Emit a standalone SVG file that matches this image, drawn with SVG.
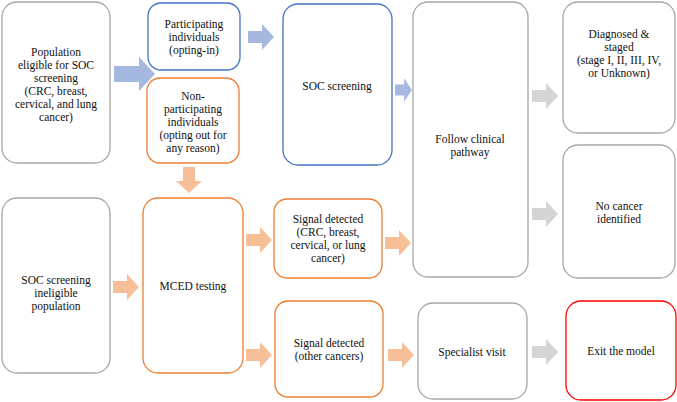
<svg xmlns="http://www.w3.org/2000/svg" width="677" height="402" viewBox="0 0 677 402">
<style>
.n{fill:#fff;stroke-width:1.3}
.g{stroke:#a6a6a6}.b{stroke:#4472c4}.o{stroke:#ed7d31}.r{stroke:#ff0000}
text{font-family:'Liberation Serif','Times New Roman','DejaVu Serif',serif;font-size:11.5px;fill:#111;text-anchor:middle}
.ab{fill:#a5b8e0}.ao{fill:#f7bf98}.ag{fill:#d4d4d4}
</style>
<defs>
<path id="a" d="M0,-6 H14 V-13 L26,0 L14,13 V6 H0 Z"/>
<path id="big" d="M0,-8 H25 V-17 L41,0 L25,17 V8 H0 Z"/>
</defs>
<g id="connectors">
<use href="#big" class="ab" x="114" y="74"/>
<use href="#a" class="ab" x="248" y="37"/>
<use href="#a" class="ab" transform="translate(395,90) scale(0.65,0.9)"/>
<use href="#a" class="ag" x="532" y="96"/>
<use href="#a" class="ag" x="532" y="214"/>
<use href="#a" class="ag" x="532" y="352"/>
<use href="#a" class="ao" transform="translate(189,167) rotate(90)"/>
<use href="#a" class="ao" x="113" y="287"/>
<use href="#a" class="ao" x="246" y="240"/>
<use href="#a" class="ao" x="246" y="355"/>
<use href="#a" class="ao" x="385" y="243"/>
<use href="#a" class="ao" x="388" y="355"/>
</g>
<g id="pop"><rect class="n g" x="2" y="2" width="108" height="161" rx="15"/>
<text x="56" y="56">Population</text><text x="56" y="69">eligible for SOC</text><text x="56" y="82">screening</text><text x="56" y="95">(CRC, breast,</text><text x="56" y="108">cervical, and lung</text><text x="56" y="121">cancer)</text></g>
<g id="part"><rect class="n b" x="148" y="3" width="92" height="67" rx="13"/>
<text x="194" y="28">Participating</text><text x="194" y="41">individuals</text><text x="194" y="54">(opting-in)</text></g>
<g id="nonpart"><rect class="n o" x="147" y="78" width="92" height="85" rx="13"/>
<text x="193" y="100">Non-</text><text x="193" y="113">participating</text><text x="193" y="126">individuals</text><text x="193" y="139">(opting out for</text><text x="193" y="152">any reason)</text></g>
<g id="soc"><rect class="n b" x="283" y="4" width="109" height="161" rx="15"/>
<text x="337" y="90">SOC screening</text></g>
<g id="follow"><rect class="n g" x="413" y="2" width="115" height="275" rx="15"/>
<text x="470" y="143">Follow clinical</text><text x="470" y="156">pathway</text></g>
<g id="diag"><rect class="n g" x="563" y="2" width="112" height="131" rx="15"/>
<text x="619" y="38">Diagnosed &amp;</text><text x="619" y="51">staged</text><text x="619" y="64">(stage I, II, III, IV,</text><text x="619" y="77">or Unknown)</text></g>
<g id="nocancer"><rect class="n g" x="563" y="145" width="112" height="133" rx="15"/>
<text x="619" y="210">No cancer</text><text x="619" y="223">identified</text></g>
<g id="inel"><rect class="n g" x="2" y="198" width="108" height="175" rx="15"/>
<text x="56" y="284">SOC screening</text><text x="56" y="297">ineligible</text><text x="56" y="310">population</text></g>
<g id="mced"><rect class="n o" x="143" y="198" width="100" height="175" rx="15"/>
<text x="193" y="290">MCED testing</text></g>
<g id="sig1"><rect class="n o" x="274" y="199" width="108" height="79" rx="13"/>
<text x="328" y="223">Signal detected</text><text x="328" y="236">(CRC, breast,</text><text x="328" y="249">cervical, or lung</text><text x="328" y="262">cancer)</text></g>
<g id="sig2"><rect class="n o" x="275" y="301" width="108" height="96" rx="13"/>
<text x="329" y="347">Signal detected</text><text x="329" y="360">(other cancers)</text></g>
<g id="spec"><rect class="n g" x="418" y="303" width="109" height="96" rx="15"/>
<text x="472" y="356">Specialist visit</text></g>
<g id="exit"><rect class="n r" x="566" y="301" width="110" height="99" rx="15"/>
<text x="621" y="355">Exit the model</text></g>
</svg>
